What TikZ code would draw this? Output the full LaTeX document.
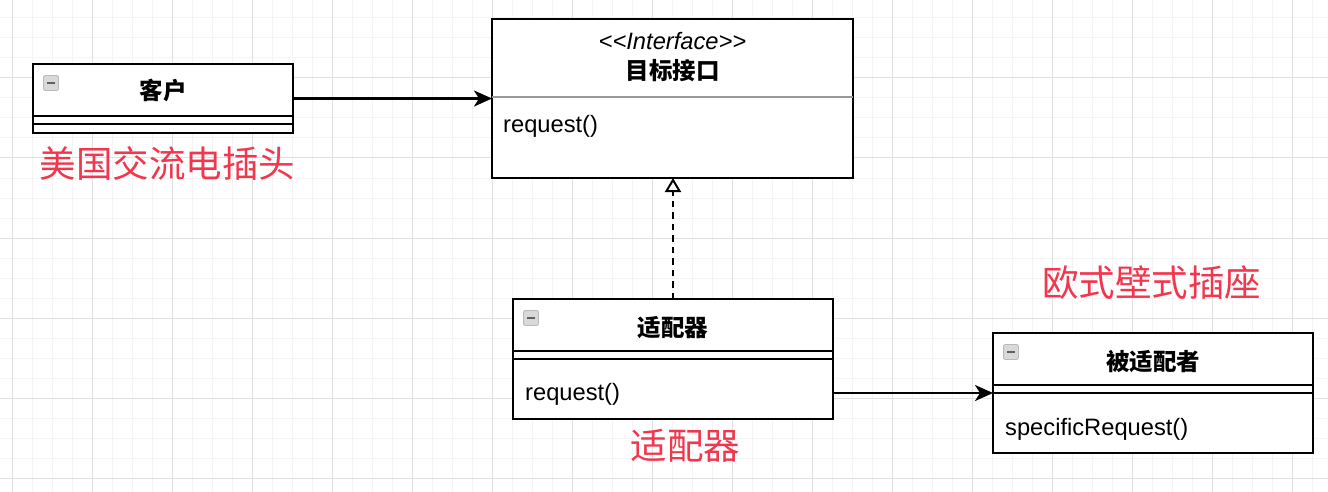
\documentclass[tikz,border=0pt]{standalone}
\usepackage{fontspec}
\setmainfont{Liberation Sans}
\newfontfamily\cjk{Noto Sans CJK SC}
\usetikzlibrary{arrows.meta}
\definecolor{lbl}{HTML}{F2364D}
\definecolor{gmin}{HTML}{F4F4F4}
\definecolor{gmaj}{HTML}{E0E0E0}
\definecolor{divgray}{HTML}{999999}
\begin{document}
\begin{tikzpicture}[x=1pt,y=-1pt,
  box/.style={draw, line width=2.2pt, anchor=north west, inner sep=0pt, outer sep=0pt, rectangle},
  sepline/.style={line width=2.2pt},
  title/.style={inner sep=0pt, font=\cjk\bfseries\fontsize{23.5}{28}\selectfont},
  meth/.style={anchor=base west, inner sep=0pt, font=\fontsize{23.7}{28}\selectfont},
  redlbl/.style={inner sep=0pt, text=lbl, font=\cjk\fontsize{36.5}{42}\selectfont},
  icon/.style={rectangle, rounded corners=2pt, minimum size=15pt, inner sep=0pt,
    fill=gray!30, draw=gray!55, line width=0.9pt,
    path picture={\draw[line width=2.4pt, gray!75!black]
      ([xshift=3.5pt]path picture bounding box.west) -- ([xshift=-3.5pt]path picture bounding box.east);}},
  arr/.style={line width=2.2pt, -{Stealth[length=18pt,width=16pt,inset=5pt]}},
  impl/.style={line width=2.2pt, dash pattern=on 6.5pt off 5pt,
    -{Triangle[open,length=14pt,width=16pt,line width=2pt]}}
]
\useasboundingbox (0,0) rectangle (1328,492);
\fill[white] (0,0) rectangle (1328,492);
% grid
\foreach \x in {12,32,...,1328} \draw[gmin, line width=1pt] (\x,0) -- (\x,492);
\foreach \y in {18,38,...,492} \draw[gmin, line width=1pt] (0,\y) -- (1328,\y);
\foreach \x in {12,92,...,1328} \draw[gmaj, line width=1pt] (\x,0) -- (\x,492);
\foreach \y in {78,158,...,492} \draw[gmaj, line width=1pt] (0,\y) -- (1328,\y);

% boxes
\node[box, fill=white, minimum width=260pt, minimum height=69pt] (client) at (33,64) {};
\node[box, fill=white, minimum width=361pt, minimum height=159pt] (iface) at (492,19) {};
\node[box, fill=white, minimum width=320pt, minimum height=120pt] (adapter) at (513,299) {};
\node[box, fill=white, minimum width=320pt, minimum height=120pt] (adaptee) at (993,333) {};

% compartment lines
\draw[sepline] (client.west |- 0,116) -- (client.east |- 0,116);
\draw[sepline] (client.west |- 0,124) -- (client.east |- 0,124);
\draw[line width=2pt, divgray] (iface.west |- 0,97) -- (iface.east |- 0,97);
\draw[sepline] (adapter.west |- 0,351) -- (adapter.east |- 0,351);
\draw[sepline] (adapter.west |- 0,359) -- (adapter.east |- 0,359);
\draw[sepline] (adaptee.west |- 0,385) -- (adaptee.east |- 0,385);
\draw[sepline] (adaptee.west |- 0,393) -- (adaptee.east |- 0,393);

% icons
\node[icon] (clientIcon) at (51,83) {};
\node[icon] (adapterIcon) at (531,318) {};
\node[icon] (adapteeIcon) at (1011,352) {};

% titles
\node[title] (clientT) at (163,91) {客户};
\node[anchor=base, inner sep=0pt, font=\itshape\fontsize{23.7}{28}\selectfont] (ifaceSt) at (672.5,50) {<\kern0pt<Interface>\kern0pt>};
\node[title] (ifaceT) at (672.5,70.5) {目标接口};
\node[title] (adapterT) at (673,328) {适配器};
\node[title] (adapteeT) at (1153,361.5) {被适配者};

% methods
\node[meth] (ifaceM) at (503,132) {request()};
\node[meth] (adapterM) at (525,400) {request()};
\node[meth] (adapteeM) at (1005,435) {specificRequest()};

% connectors
\draw[arr] (client.east) -- (client.east -| iface.west);
\draw[arr] (adapter.east |- 0,393) -- (adaptee.west |- 0,393);
\draw[impl] (adapter.north) -- (adapter.north |- iface.south);

% red labels
\node[redlbl] (usLbl) at (167.5,164) {美国交流电插头};
\node[redlbl] (euLbl) at (1151.5,283) {欧式壁式插座};
\node[redlbl] (adLbl) at (685.5,446) {适配器};
\end{tikzpicture}
\end{document}
